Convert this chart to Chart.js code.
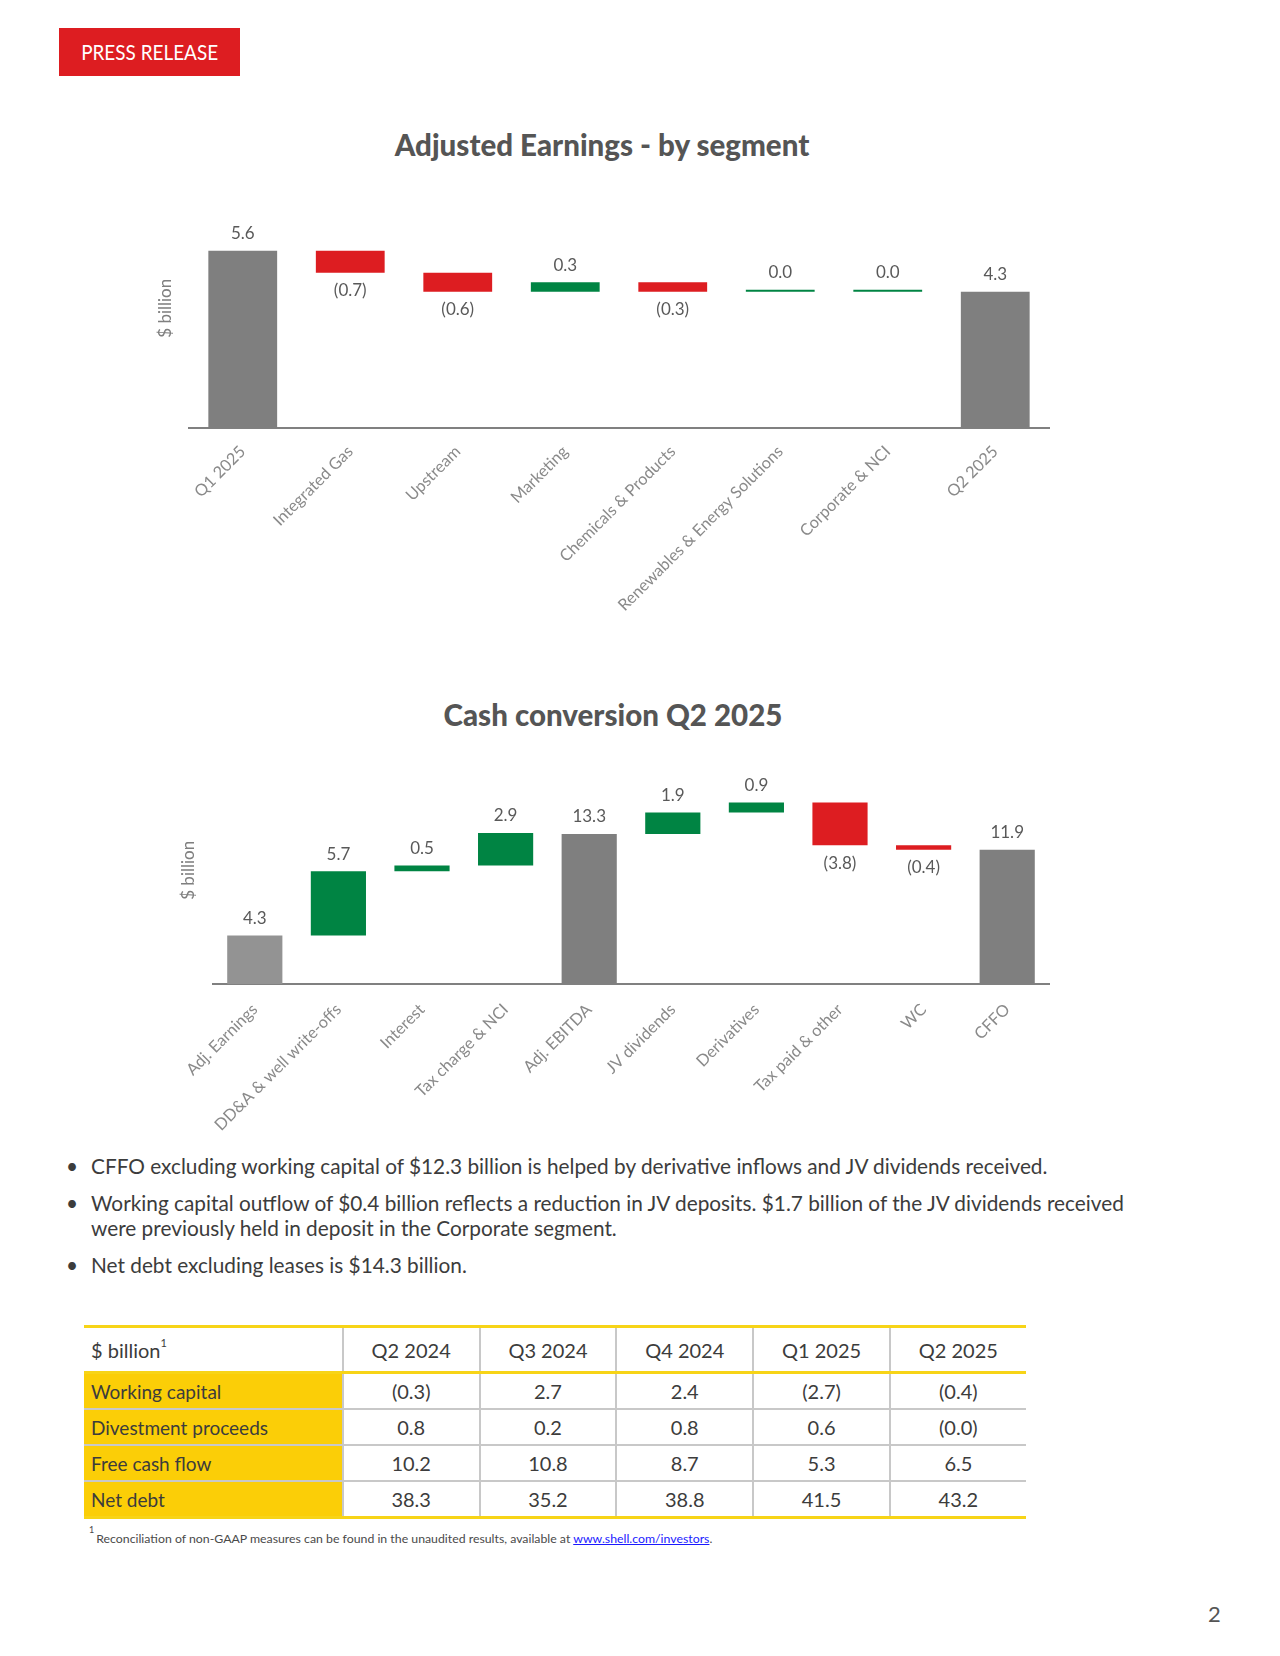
<!DOCTYPE html>
<html>
<head>
<meta charset="utf-8">
<script src="https://cdn.jsdelivr.net/npm/chart.js@4.4.1/dist/chart.umd.min.js"></script>
<style>
  html, body { margin:0; padding:0; background:#fff; }
  body { width:1280px; height:1656px; position:relative; overflow:hidden; font-family: Lato, "Open Sans", sans-serif; color:#3c3c3c; }
  #pr { position:absolute; left:59px; top:28px; width:181px; height:48px; background:#dd1d21; color:#fff; text-align:center; line-height:48px; font-size:22px; }
  #pr span { display:inline-block; transform:scaleX(0.86); }
  .title { position:absolute; width:700px; text-align:center; font-weight:900; line-height:36px; color:#555; }
  canvas { position:absolute; }
  .bul { position:absolute; left:60px; font-size:20.8px; line-height:25px; white-space:nowrap; color:#3c3c3c; }
  .bul .dot { position:absolute; left:6px; top:0; }
  .bul .txt { position:absolute; left:31px; top:0; }
  #tbl { position:absolute; left:84px; top:1325px; width:942px; border-collapse:collapse; table-layout:fixed; font-size:20px; color:#3c3c3c; }
  #tbl th, #tbl td { font-weight:400; text-align:center; padding:0; border-left:2px solid #c8c8c8; }
  #tbl .lab { text-align:left; padding-left:7px; border-left:none; }
  #tbl td.lab { font-size:19px; }
  #tbl tr.hdr th { height:43px; border-top:3px solid #f7d417; border-bottom:3px solid #f7d417; }
  #tbl tr.row td { height:34px; border-bottom:2px solid #c8c8c8; }
  #tbl tr.row td.lab { background:#fbce07; }
  #tbl tr.row.last td { border-bottom:3px solid #f7d417; }
  #tbl sup { font-size:11px; position:relative; top:-3px; }
  #foot { position:absolute; left:89px; top:1529px; font-size:12.3px; color:#4a4a4a; white-space:nowrap; }
  #foot sup { font-size:9px; position:relative; top:-5px; margin-right:2px; }
  #foot a { color:#1a1aff; text-decoration:underline; }
  #pg { position:absolute; left:1208px; top:1600px; font-size:22px; color:#555; }
</style>
</head>
<body>
<div id="pr"><span>PRESS RELEASE</span></div>
<div class="title" style="left:252px; top:127px; font-size:29.5px;">Adjusted Earnings - by segment</div>
<canvas id="c1" width="960" height="460" style="left:120px; top:180px;"></canvas>
<div class="title" style="left:263px; top:697px; font-size:29.5px;">Cash conversion Q2 2025</div>
<canvas id="c2" width="960" height="400" style="left:120px; top:740px;"></canvas>

<div class="bul" style="top:1153px;"><span class="dot">•</span><span class="txt">CFFO excluding working capital of $12.3 billion is helped by derivative inflows and JV dividends received.</span></div>
<div class="bul" style="top:1190px;"><span class="dot">•</span><span class="txt">Working capital outflow of $0.4 billion reflects a reduction in JV deposits. $1.7 billion of the JV dividends received<br>were previously held in deposit in the Corporate segment.</span></div>
<div class="bul" style="top:1252px;"><span class="dot">•</span><span class="txt">Net debt excluding leases is $14.3 billion.</span></div>

<table id="tbl"></table>
<div id="foot"><sup>1</sup>Reconciliation of non-GAAP measures can be found in the unaudited results, available at <a>www.shell.com/investors</a>.</div>
<div id="pg">2</div>

<script>
// ---------- Data ----------
const segCategories = ['Q1 2025', 'Integrated Gas', 'Upstream', 'Marketing', 'Chemicals & Products', 'Renewables & Energy Solutions', 'Corporate & NCI', 'Q2 2025'];
const segValues = [5.6, -0.7, -0.6, 0.3, -0.3, 0.0, 0.0, 4.3];
const segKinds = ['total', 'delta', 'delta', 'delta', 'delta', 'delta', 'delta', 'total'];

const cashCategories = ['Adj. Earnings', 'DD&A & well write-offs', 'Interest', 'Tax charge & NCI', 'Adj. EBITDA', 'JV dividends', 'Derivatives', 'Tax paid & other', 'WC', 'CFFO'];
const cashValues = [4.3, 5.7, 0.5, 2.9, 13.3, 1.9, 0.9, -3.8, -0.4, 11.9];
const cashKinds = ['start', 'delta', 'delta', 'delta', 'total', 'delta', 'delta', 'delta', 'delta', 'total'];

const tblPeriods = ['Q2 2024', 'Q3 2024', 'Q4 2024', 'Q1 2025', 'Q2 2025'];
const tblRowNames = ['Working capital', 'Divestment proceeds', 'Free cash flow', 'Net debt'];
const workingCapital = [-0.3, 2.7, 2.4, -2.7, -0.4];
const divestmentProceeds = [0.8, 0.2, 0.8, 0.6, -0.0];
const freeCashFlow = [10.2, 10.8, 8.7, 5.3, 6.5];
const netDebt = [38.3, 35.2, 38.8, 41.5, 43.2];

// ---------- Helpers ----------
const GRAY = '#7f7f7f', LIGHTGRAY = '#939393', RED = '#dd1d21', GREEN = '#008443';
function fmt(v) {
  return (v < 0 || Object.is(v, -0)) ? '(' + Math.abs(v).toFixed(1) + ')' : v.toFixed(1);
}
function waterfall(values, kinds) {
  let run = 0;
  return values.map((v, i) => {
    if (kinds[i] !== 'delta') { run = v; return [0, v]; }
    const s = run; run = run + v; return [s, run];
  });
}
function colorsFor(values, kinds) {
  return values.map((v, i) => kinds[i] === 'start' ? LIGHTGRAY : kinds[i] === 'total' ? GRAY : (v < 0 ? RED : GREEN));
}

const labelPlugin = {
  id: 'wfLabels',
  afterDatasetsDraw(chart, args, opts) {
    const ctx = chart.ctx;
    const meta = chart.getDatasetMeta(0);
    const vals = opts.values, kinds = opts.kinds;
    ctx.save();
    ctx.font = '17px Lato, sans-serif';
    ctx.fillStyle = '#595959';
    ctx.textAlign = 'center';
    ctx.textBaseline = 'middle';
    meta.data.forEach((bar, i) => {
      const top = Math.min(bar.y, bar.base), bot = Math.max(bar.y, bar.base);
      const v = vals[i];
      if (kinds[i] === 'delta' && v < 0) ctx.fillText(fmt(v), bar.x, bot + 18);
      else ctx.fillText(fmt(v), bar.x, top - 17);
    });
    // axis title
    const ca = chart.chartArea;
    ctx.translate(ca.left + opts.titleDx, ca.top + (ca.bottom - ca.top) * opts.titleFy);
    ctx.rotate(-Math.PI / 2);
    ctx.font = '17px Lato, sans-serif';
    ctx.fillStyle = '#7f7f7f';
    ctx.fillText('$ billion', 0, 0);
    ctx.restore();
  }
};

function makeChart(id, cats, vals, kinds, cfg) {
  return new Chart(document.getElementById(id), {
    type: 'bar',
    data: {
      labels: cats,
      datasets: [{
        data: waterfall(vals, kinds),
        backgroundColor: colorsFor(vals, kinds),
        borderWidth: 0,
        barPercentage: cfg.barPct,
        categoryPercentage: 1,
        minBarLength: 2
      }]
    },
    options: {
      responsive: false,
      animation: false,
      devicePixelRatio: 1,
      layout: { padding: cfg.padding },
      plugins: {
        legend: { display: false },
        tooltip: { enabled: false },
        wfLabels: { values: vals, kinds: kinds, titleDx: cfg.titleDx, titleFy: cfg.titleFy }
      },
      scales: {
        y: { display: false, min: 0, max: cfg.yMax },
        x: {
          grid: { display: false, drawTicks: false },
          border: { display: true, color: '#808080', width: 2 },
          ticks: {
            autoSkip: false, minRotation: 45, maxRotation: 45,
            color: '#8a8a8a', font: { family: 'Lato, sans-serif', size: 16.3 }, padding: cfg.tickPad
          },
          afterFit(scale) { scale.height = cfg.xHeight; }
        }
      }
    },
    plugins: [labelPlugin]
  });
}

makeChart('c1', segCategories, segValues, segKinds,
  { barPct: 0.64, yMax: 6, padding: { left: 69, right: 31, top: 58, bottom: 0 }, xHeight: 212, tickPad: 14, titleDx: -23, titleFy: 0.37 });
makeChart('c2', cashCategories, cashValues, cashKinds,
  { barPct: 0.66, yMax: 18, padding: { left: 93, right: 31, top: 41, bottom: 0 }, xHeight: 156, tickPad: 16, titleDx: -24, titleFy: 0.44 });

// ---------- Table ----------
(function () {
  const t = document.getElementById('tbl');
  const widths = [258, 137, 136, 137, 136, 136];
  let html = '<colgroup>' + widths.map(w => '<col style="width:' + w + 'px">').join('') + '</colgroup>';
  html += '<tr class="hdr"><th class="lab">$ billion<sup>1</sup></th>' + tblPeriods.map(p => '<th>' + p + '</th>').join('') + '</tr>';
  const rows = [workingCapital, divestmentProceeds, freeCashFlow, netDebt];
  rows.forEach((r, i) => {
    html += '<tr class="row' + (i === rows.length - 1 ? ' last' : '') + '"><td class="lab">' + tblRowNames[i] + '</td>' +
      r.map(v => '<td>' + fmt(v) + '</td>').join('') + '</tr>';
  });
  t.innerHTML = html;
})();
</script>
</body>
</html>
